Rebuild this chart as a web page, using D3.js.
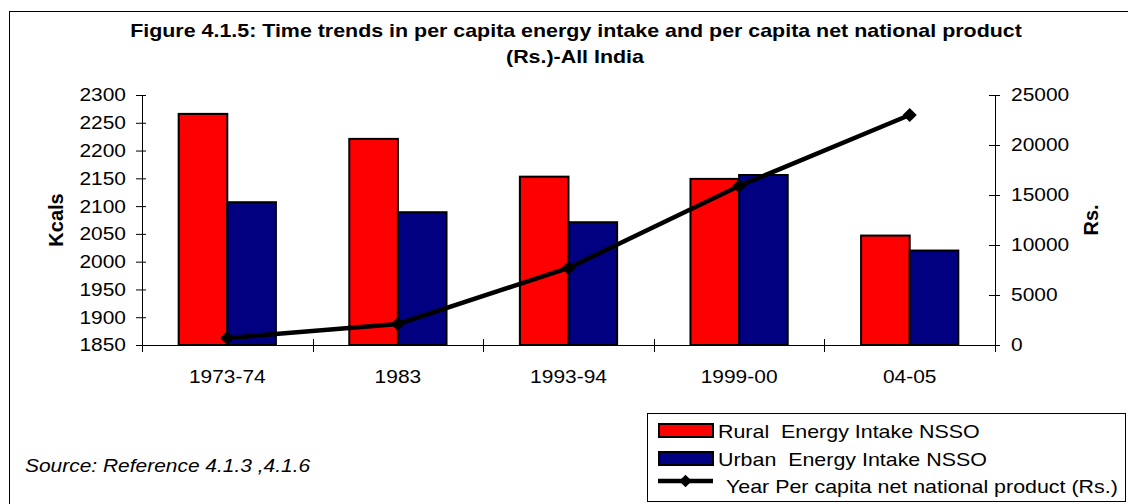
<!DOCTYPE html>
<html>
<head>
<meta charset="utf-8">
<script src="https://cdn.jsdelivr.net/npm/d3@7"></script>
<style>
  body { margin: 0; background: #fff; }
  svg { display: block; font-family: "Liberation Sans", Arial, sans-serif; }
  text { fill: #000; white-space: pre; }
</style>
</head>
<body>
<svg width="1128" height="504"></svg>
<script>
// data
var categories = ["1973-74", "1983", "1993-94", "1999-00", "04-05"];
var rural = [2266, 2221, 2153, 2149, 2047];
var urban = [2107, 2089, 2071, 2156, 2020];
var nnp = [700, 2100, 7700, 15900, 23000];
var leftTicks = [1850, 1900, 1950, 2000, 2050, 2100, 2150, 2200, 2250, 2300];
var rightTicks = [0, 5000, 10000, 15000, 20000, 25000];
var seriesNames = ["Rural  Energy Intake NSSO", "Urban  Energy Intake NSSO", "Year Per capita net national product (Rs.)"];

var svg = d3.select("svg"),
    margin = { top: 95, right: 133, bottom: 159, left: 142 },
    width = 1128 - margin.left - margin.right,
    height = 504 - margin.top - margin.bottom;

var SX = 1.12, FS = "18.7px";

// text in the original is a little wider than tall
function stretch(sel, sx) {
    sx = sx || SX;
    sel.each(function() {
        var t = d3.select(this);
        var x = +t.attr("x") || 0, y = +t.attr("y") || 0;
        t.attr("x", 0).attr("y", 0)
         .attr("transform", "translate(" + x + "," + y + ") scale(" + sx + ",1)");
    });
}

// outer frame
svg.append("rect")
    .attr("x", 9.5).attr("y", 11.5)
    .attr("width", 1200).attr("height", 600)
    .attr("fill", "none").attr("stroke", "#000");

// title
svg.append("text")
    .attr("x", 576).attr("y", 37)
    .attr("text-anchor", "middle")
    .style("font-weight", "bold").style("font-size", FS)
    .text("Figure 4.1.5: Time trends in per capita energy intake and per capita net national product")
    .call(stretch, 1.145);
svg.append("text")
    .attr("x", 575).attr("y", 63)
    .attr("text-anchor", "middle")
    .style("font-weight", "bold").style("font-size", FS)
    .text("(Rs.)-All India")
    .call(stretch, 1.145);

var g = svg.append("g").attr("transform", "translate(" + margin.left + "," + margin.top + ")");

var x0 = d3.scaleBand().domain(categories).range([0, width]).paddingInner(0.43).paddingOuter(0.215);
var x1 = d3.scaleBand().domain(["rural", "urban"]).range([0, x0.bandwidth()]);
var yL = d3.scaleLinear().domain([1850, 2300]).range([height, 0]);
var yR = d3.scaleLinear().domain([0, 25000]).range([height, 0]);
var colors = { rural: "#ff0000", urban: "#000080" };

// bars
var rows = categories.map(function(c, i) {
    return { cat: c, vals: [{ key: "rural", v: rural[i] }, { key: "urban", v: urban[i] }] };
});

var grp = g.selectAll(".grp")
    .data(rows)
    .enter().append("g")
    .attr("class", "grp")
    .attr("transform", function(d) { return "translate(" + x0(d.cat) + ",0)"; });

grp.selectAll("rect")
    .data(function(d) { return d.vals; })
    .enter().append("rect")
    .attr("x", function(d) { return x1(d.key); })
    .attr("y", function(d) { return yL(d.v); })
    .attr("width", x1.bandwidth())
    .attr("height", function(d) { return height - yL(d.v); })
    .attr("fill", function(d) { return colors[d.key]; })
    .attr("stroke", "#000")
    .attr("stroke-width", 2);

// left axis
var axL = g.append("g")
    .call(d3.axisLeft(yL).tickValues(leftTicks).tickSizeOuter(0).tickFormat(d3.format("d")));
axL.selectAll(".tick line").attr("x1", -6).attr("x2", 4);
axL.selectAll(".tick text").attr("x", -16).style("font-size", FS).call(stretch);
axL.attr("font-family", null).attr("font-size", null);

// right axis
var axR = g.append("g")
    .attr("transform", "translate(" + width + ",0)")
    .call(d3.axisRight(yR).tickValues(rightTicks).tickSizeOuter(0).tickFormat(d3.format("d")));
axR.selectAll(".tick line").attr("x1", -6).attr("x2", 5);
axR.selectAll(".tick text").attr("x", 16).style("font-size", FS).call(stretch);
axR.attr("font-family", null).attr("font-size", null);

// bottom axis: labels at centres, ticks between groups
var axB = g.append("g")
    .attr("transform", "translate(0," + height + ")")
    .call(d3.axisBottom(x0).tickSize(0).tickSizeOuter(0));
axB.select(".domain").remove();
axB.selectAll(".tick text").attr("y", 38).attr("dy", null).style("font-size", FS).call(stretch);
axB.attr("font-family", null).attr("font-size", null);

g.append("line")
    .attr("x1", 0).attr("x2", width)
    .attr("y1", height + 0.5).attr("y2", height + 0.5)
    .attr("stroke", "#000");

g.selectAll(".xtick")
    .data(d3.range(categories.length + 1))
    .enter().append("line")
    .attr("class", "xtick")
    .attr("x1", function(i) { return Math.round(i * x0.step()) + 0.5; })
    .attr("x2", function(i) { return Math.round(i * x0.step()) + 0.5; })
    .attr("y1", height - 6).attr("y2", height + 7)
    .attr("stroke", "#000");

// axis titles
svg.append("text")
    .attr("transform", "translate(63,220) rotate(-90)")
    .attr("text-anchor", "middle")
    .style("font-weight", "bold").style("font-size", "20px")
    .text("Kcals");
svg.append("text")
    .attr("transform", "translate(1098,220) rotate(-90)")
    .attr("text-anchor", "middle")
    .style("font-weight", "bold").style("font-size", "20px")
    .text("Rs.");

// NNP line
var pts = categories.map(function(c, i) { return { cat: c, v: nnp[i] }; });
var line = d3.line()
    .x(function(d) { return x0(d.cat) + x0.bandwidth() / 2; })
    .y(function(d) { return yR(d.v); });

g.append("path")
    .datum(pts)
    .attr("d", line)
    .attr("fill", "none")
    .attr("stroke", "#000")
    .attr("stroke-width", 4.5);

var diamond = d3.symbol().type(d3.symbolSquare).size(100);
g.selectAll(".pt")
    .data(pts)
    .enter().append("path")
    .attr("class", "pt")
    .attr("d", diamond)
    .attr("transform", function(d) {
        return "translate(" + (x0(d.cat) + x0.bandwidth() / 2) + "," + yR(d.v) + ") rotate(45)";
    })
    .attr("fill", "#000");

// source note
svg.append("text")
    .attr("x", 25).attr("y", 472)
    .style("font-style", "italic").style("font-size", FS)
    .text("Source: Reference 4.1.3 ,4.1.6")
    .call(stretch);

// legend
var lg = svg.append("g").attr("transform", "translate(647,413)");
lg.append("rect")
    .attr("x", 0.5).attr("y", 0.5)
    .attr("width", 478).attr("height", 88)
    .attr("fill", "#fff").attr("stroke", "#000");

var swatchCols = [colors.rural, colors.urban];
lg.selectAll(".sw")
    .data(swatchCols)
    .enter().append("rect")
    .attr("class", "sw")
    .attr("x", 12).attr("y", function(d, i) { return 11 + i * 28; })
    .attr("width", 54).attr("height", 13)
    .attr("fill", function(d) { return d; })
    .attr("stroke", "#000").attr("stroke-width", 2);

lg.append("line")
    .attr("x1", 11).attr("x2", 66)
    .attr("y1", 68).attr("y2", 68)
    .attr("stroke", "#000").attr("stroke-width", 4.5);
lg.append("path")
    .attr("d", d3.symbol().type(d3.symbolSquare).size(80))
    .attr("transform", "translate(38.5,68) rotate(45)")
    .attr("fill", "#000");

lg.selectAll(".lt")
    .data(seriesNames)
    .enter().append("text")
    .attr("class", "lt")
    .attr("x", function(d, i) { return i < 2 ? 71 : 79; })
    .attr("y", function(d, i) { return 25 + i * 28 - (i == 2 ? 1 : 0); })
    .style("font-size", FS)
    .text(function(d) { return d; })
    .call(stretch, 1.145);
</script>
</body>
</html>
